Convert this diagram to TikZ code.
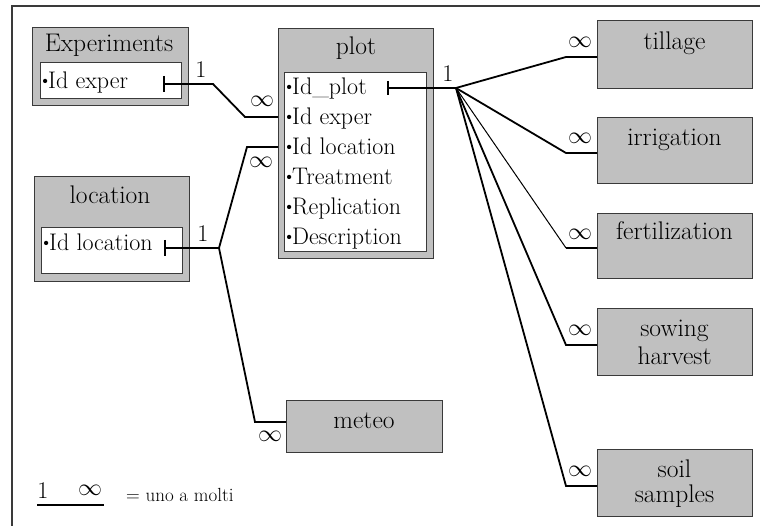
\RequirePackage{fix-cm}
\documentclass[tikz,border=0pt]{standalone}
\usepackage{fontspec}
\definecolor{boxgray}{HTML}{C0C0C0}
\definecolor{boxline}{HTML}{3A3A3A}
\newcommand{\bul}{\makebox[6pt][c]{\raisebox{2.5pt}{\fontsize{19}{19}\selectfont\textbullet}}}
\newcommand{\myinf}{\ensuremath{\infty}}
\begin{document}
\begin{tikzpicture}[x=1pt,y=-1pt,
  graybox/.style={draw=boxline, fill=boxgray, line width=1.2pt, inner sep=0pt, anchor=north west},
  whitebox/.style={draw=boxline, fill=white, line width=1.2pt, inner sep=0pt, anchor=north west},
  titletext/.style={inner sep=0pt, anchor=base, font=\fontsize{25.5}{28}\selectfont},
  itemtext/.style={inner sep=0pt, anchor=base west, font=\fontsize{24}{28}\selectfont},
  card/.style={inner sep=0pt, font=\fontsize{24}{28}\selectfont},
  conn/.style={line width=1.8pt, line join=miter},
  thinconn/.style={line width=1pt},
  barline/.style={line width=1.8pt}]
\useasboundingbox (0,0) rectangle (760,526);
% frame
\draw[line width=1.2pt, boxline] (12,526) -- (12,6) -- (760,6);

% Experiments
\node[graybox, minimum width=156pt, minimum height=78pt] (expbox) at (32,27) {};
\node[whitebox, minimum width=141pt, minimum height=36pt] (expin) at (40,62) {};
\node[titletext] (exptitle) at (109,52) {Experiments};
\node[itemtext] (expitem) at (42,89) {\bul Id exper};

% location
\node[graybox, minimum width=155pt, minimum height=105pt] (locbox) at (34,176) {};
\node[whitebox, minimum width=141pt, minimum height=46pt] (locin) at (41,227) {};
\node[titletext] (loctitle) at (110,204) {location};
\node[itemtext] (locitem) at (43,251) {\bul Id location};

% plot
\node[graybox, minimum width=155pt, minimum height=230pt] (plotbox) at (278,28) {};
\node[whitebox, minimum width=142pt, minimum height=179pt] (plotin) at (284,72) {};
\node[titletext] (plottitle) at (356,55) {plot};
\node[itemtext] (pi1) at (286,95) {\bul Id\_plot};
\node[itemtext] (pi2) at (286,125) {\bul Id exper};
\node[itemtext] (pi3) at (286,155) {\bul Id location};
\node[itemtext] (pi4) at (286,185) {\bul Treatment};
\node[itemtext] (pi5) at (286,215) {\bul Replication};
\node[itemtext] (pi6) at (286,245) {\bul Description};

% right boxes
\node[graybox, minimum width=155pt, minimum height=68pt] (tilbox) at (597,20) {};
\node[titletext] (tiltext) at (674.5,50) {tillage};
\node[graybox, minimum width=155pt, minimum height=66pt] (irrbox) at (597,117) {};
\node[titletext] (irrtext) at (674.5,146) {irrigation};
\node[graybox, minimum width=155pt, minimum height=65pt] (ferbox) at (597,213) {};
\node[titletext] (fertext) at (674.5,240) {fertilization};
\node[graybox, minimum width=155pt, minimum height=67pt] (sowbox) at (597,308) {};
\node[titletext] (sowtext1) at (674.5,337) {sowing};
\node[titletext] (sowtext2) at (674.5,364) {harvest};
\node[graybox, minimum width=155pt, minimum height=67pt] (soilbox) at (597,449) {};
\node[titletext] (soiltext1) at (674.5,477) {soil};
\node[titletext] (soiltext2) at (674.5,502) {samples};

% meteo
\node[graybox, minimum width=156pt, minimum height=52pt] (metbox) at (286,400) {};
\node[titletext] (mettext) at (364,428) {meteo};

% connectors: Experiments - plot
\coordinate (eb) at (164,84);
\coordinate (e1) at (213,84);
\coordinate (e2) at (245,117);
\draw[barline] ([yshift=8pt]eb) -- ([yshift=-8pt]eb);
\draw[conn] (eb) -- (e1) -- (e2) -- (e2 -| plotbox.west);
\node[card] (c1a) at (201,70) {1};
\node[card] (c1b) at (262,101) {\myinf};

% location - plot, meteo
\coordinate (lb) at (165,248);
\coordinate (lj) at (219,248);
\coordinate (l1) at (247,147);
\coordinate (l2) at (255,422);
\draw[barline] ([yshift=8pt]lb) -- ([yshift=-8pt]lb);
\draw[conn] (lb) -- (lj);
\draw[conn] (lj) -- (l1) -- (l1 -| plotbox.west);
\draw[conn] (lj) -- (l2) -- (l2 -| metbox.west);
\node[card] (c2a) at (203,234) {1};
\node[card] (c2b) at (261,162) {\myinf};
\node[card] (c2c) at (270,436) {\myinf};

% plot - right boxes
\coordinate (pb) at (388,88);
\coordinate (pj) at (456,88);
\coordinate (t1) at (566,57);
\coordinate (t2) at (566,153);
\coordinate (t3) at (566,248);
\coordinate (t4) at (566,345);
\coordinate (t5) at (566,486);
\draw[barline] ([yshift=7pt]pb) -- ([yshift=-7pt]pb);
\draw[conn] (pb) -- (pj);
\draw[conn] (pj) -- (t1) -- (t1 -| tilbox.west);
\draw[conn] (pj) -- (t2) -- (t2 -| irrbox.west);
\draw[thinconn] (pj) -- (t3);
\draw[conn] (t3) -- (t3 -| ferbox.west);
\draw[conn] (pj) -- (t4) -- (t4 -| sowbox.west);
\draw[conn] (pj) -- (t5) -- (t5 -| soilbox.west);
\node[card] (c3a) at (448,74) {1};
\node[card] (c3b) at (580,42) {\myinf};
\node[card] (c3c) at (580,138) {\myinf};
\node[card] (c3d) at (580,234) {\myinf};
\node[card] (c3e) at (580,330) {\myinf};
\node[card] (c3f) at (580,471) {\myinf};

% legend
\node[card] (leg1) at (43,491) {1};
\node[card] (leginf) at (90,490) {\myinf};
\coordinate (lega) at (37,505);
\coordinate (legb) at (104,505);
\draw[conn] (lega) -- (legb);
\node[inner sep=0pt, anchor=base west, font=\fontsize{19}{21}\selectfont] (legtxt) at (126,501) {= uno a molti};
\end{tikzpicture}
\end{document}
